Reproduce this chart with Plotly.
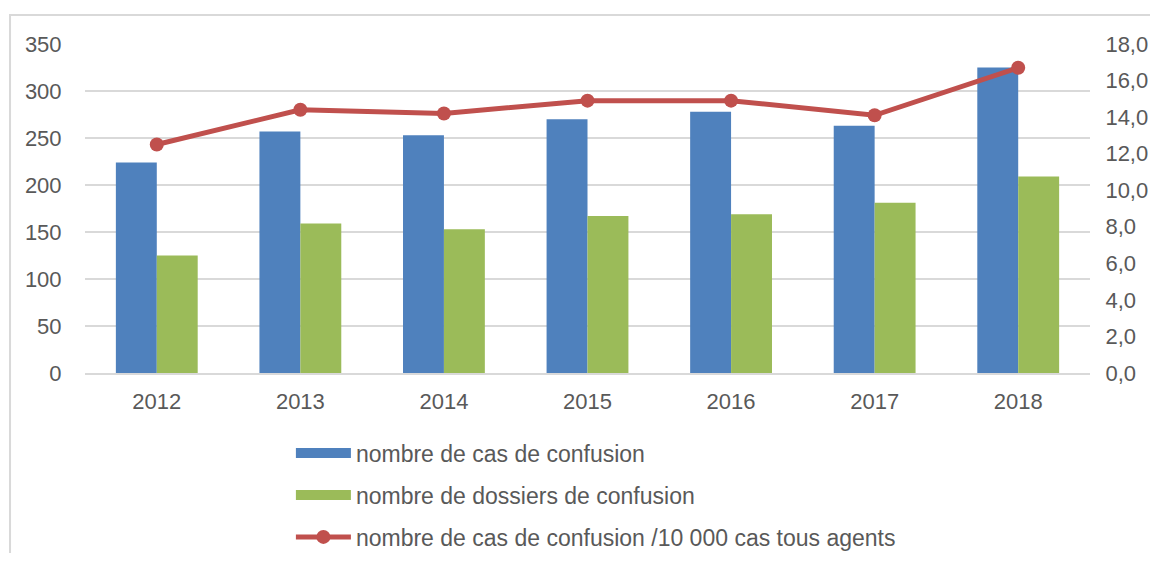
import plotly.graph_objects as go

years = ["2012", "2013", "2014", "2015", "2016", "2017", "2018"]
cas = [224, 257, 253, 270, 278, 263, 325]
dossiers = [125, 159, 153, 167, 169, 181, 209]
taux = [12.5, 14.4, 14.2, 14.9, 14.9, 14.1, 16.7]

name_cas = "nombre de cas de confusion"
name_dos = "nombre de dossiers de confusion"
name_taux = "nombre de cas de confusion /10 000 cas tous agents"

BLUE = "#4f81bd"
GREEN = "#9bbb59"
RED = "#c0504d"
GRID = "#d9d9d9"
TXT = "#595959"
FONT = "Liberation Sans, Arial, sans-serif"

fig = go.Figure()
fig.add_trace(go.Bar(x=years, y=cas, name=name_cas, marker=dict(color=BLUE, line=dict(width=0)),
                     showlegend=False, yaxis="y"))
fig.add_trace(go.Bar(x=years, y=dossiers, name=name_dos, marker=dict(color=GREEN, line=dict(width=0)),
                     showlegend=False, yaxis="y"))
# legend entries drawn as wide rectangles like the original
fig.add_trace(go.Scatter(x=[None], y=[None], mode="lines", name=name_cas,
                         line=dict(color=BLUE, width=12), legendgroup="a"))
fig.add_trace(go.Scatter(x=[None], y=[None], mode="lines", name=name_dos,
                         line=dict(color=GREEN, width=12), legendgroup="b"))
fig.add_trace(go.Scatter(x=years, y=taux, name=name_taux, mode="lines+markers",
                         line=dict(color=RED, width=5), marker=dict(color=RED, size=14),
                         yaxis="y2", legendgroup="c"))

fig.update_layout(
    width=1150, height=545,
    margin=dict(l=77, r=68, t=36, b=180, autoexpand=False),
    paper_bgcolor="white", plot_bgcolor="white",
    font=dict(family=FONT, size=22, color=TXT),
    separators=", ",
    barmode="group", bargap=0.43, bargroupgap=0,
    xaxis=dict(type="category", showgrid=False, showline=True, linecolor=GRID, linewidth=1.5,
               ticks="outside", ticklen=8, tickcolor="rgba(0,0,0,0)", zeroline=False),
    yaxis=dict(range=[0, 350], dtick=50, showgrid=True, gridcolor=GRID, gridwidth=1.5,
               zeroline=False, ticks="outside", ticklen=18, tickcolor="rgba(0,0,0,0)"),
    yaxis2=dict(range=[0, 18], dtick=2, overlaying="y", side="right", showgrid=False,
                zeroline=False, tickformat=".1f", ticks="outside", ticklen=10,
                tickcolor="rgba(0,0,0,0)"),
    legend=dict(orientation="v", xref="container", yref="container",
                x=0.246, xanchor="left", y=0.2227, yanchor="top",
                traceorder="grouped", tracegroupgap=9, itemwidth=55,
                font=dict(family=FONT, size=23, color=TXT), bgcolor="rgba(0,0,0,0)"),
    shapes=[dict(type="rect", xref="paper", yref="paper",
                 x0=-0.0746, x1=1.2, y0=1.088, y1=-0.7,
                 line=dict(color=GRID, width=2), fillcolor="rgba(0,0,0,0)", layer="below")],
)

fig.write_html("out.html")
